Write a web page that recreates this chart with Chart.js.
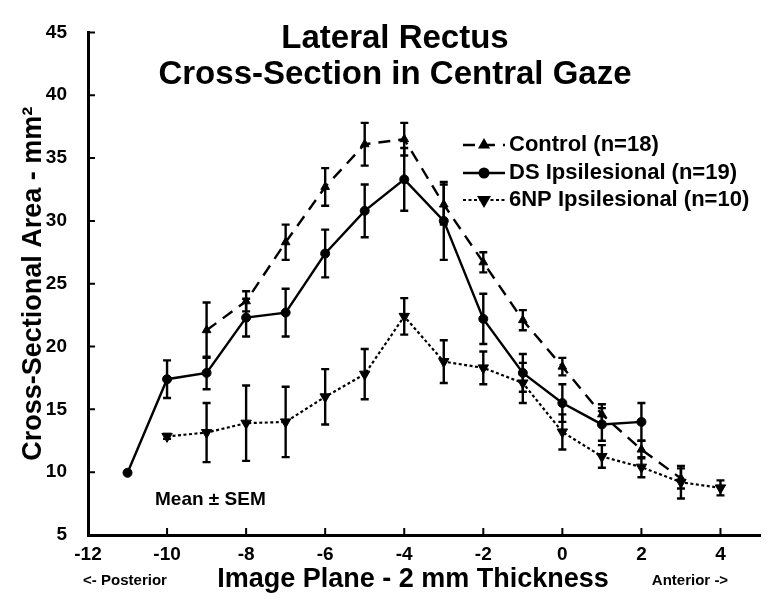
<!DOCTYPE html>
<html>
<head>
<meta charset="utf-8">
<script src="https://cdn.jsdelivr.net/npm/chart.js@4.4.1/dist/chart.umd.min.js"></script>
<style>
  html, body { margin: 0; padding: 0; background: #fff; }
  #wrap { width: 774px; height: 604px; }
</style>
</head>
<body>
<div id="wrap"><canvas id="chart" width="774" height="604"></canvas></div>
<script>
// image planes (mm steps of the 2 mm slices), shared by all series
const planes = [-11, -10, -9, -8, -7, -6, -5, -4, -3, -2, -1, 0, 1, 2, 3, 4];

const controlMean = [null, null, 21.3, 23.6, 28.3, 32.7, 36.1, 36.5, 31.3, 26.7, 22.1, 18.4, 14.6, 11.8, 9.5, null];
const controlSem  = [null, null, 2.2, 0.8, 1.4, 1.5, 1.7, 1.3, 1.6, 0.8, 0.8, 0.7, 0.8, 0.7, 0.8, null];

const dsMean = [9.95, 17.4, 17.9, 22.3, 22.7, 27.4, 30.8, 33.3, 30.0, 22.2, 17.9, 15.5, 13.8, 14.0, null, null];
const dsSem  = [null, 1.5, 1.3, 1.5, 1.9, 1.9, 2.1, 2.5, 3.1, 2.0, 1.5, 1.5, 1.3, 1.5, null, null];

const npMean = [null, 12.85, 13.15, 13.9, 14.0, 16.0, 17.8, 22.4, 18.8, 18.3, 17.1, 13.2, 11.25, 10.4, 9.2, 8.75];
const npSem  = [null, 0.2, 2.35, 3.0, 2.8, 2.2, 2.0, 1.45, 1.7, 1.3, 1.6, 1.4, 0.9, 0.8, 1.3, 0.6];

const seriesLabels = ['Control (n=18)', 'DS Ipsilesional (n=19)', '6NP Ipsilesional (n=10)'];
const titleLines = ['Lateral Rectus', 'Cross-Section in Central Gaze'];
const yTitle = 'Cross-Sectional Area - mm\u00B2';
const xTitle = 'Image Plane - 2 mm Thickness';
const noteText = 'Mean \u00B1 SEM';
const xEndLabels = ['<- Posterior', 'Anterior ->'];

const FONT = "'Liberation Sans', Arial, Helvetica, sans-serif";
const semSets = [controlSem, dsSem, npSem];

const toPoints = means => planes.map((p, i) => ({ x: p, y: means[i] }));

// vertical error bars with caps, drawn through the chart scales
const errorBars = {
  id: 'errorBars',
  afterDatasetsDraw(chart) {
    const { ctx, scales: { x, y } } = chart;
    ctx.save();
    ctx.strokeStyle = '#000';
    ctx.lineWidth = 2.4;
    chart.data.datasets.forEach((ds, d) => {
      semSets[d].forEach((s, i) => {
        const m = ds.data[i].y;
        if (s == null || m == null) return;
        const px = x.getPixelForValue(planes[i]);
        const top = y.getPixelForValue(m + s);
        const bot = y.getPixelForValue(m - s);
        ctx.beginPath();
        ctx.moveTo(px, top); ctx.lineTo(px, bot);
        ctx.moveTo(px - 4, top); ctx.lineTo(px + 4, top);
        ctx.moveTo(px - 4, bot); ctx.lineTo(px + 4, bot);
        ctx.stroke();
      });
    });
    ctx.restore();
  }
};

// tick marks pointing into the plot, plus the free text and the legend
const decorations = {
  id: 'decorations',
  afterDraw(chart) {
    const { ctx, chartArea: area, scales: { x, y } } = chart;
    ctx.save();
    ctx.strokeStyle = '#000';
    ctx.lineWidth = 2;
    ctx.beginPath();
    x.ticks.forEach(t => {
      const px = x.getPixelForValue(t.value);
      ctx.moveTo(px, area.bottom); ctx.lineTo(px, area.bottom - 7);
    });
    y.ticks.forEach(t => {
      const py = y.getPixelForValue(t.value);
      ctx.moveTo(area.left, py); ctx.lineTo(area.left + 7, py);
    });
    ctx.stroke();

    ctx.fillStyle = '#000';
    ctx.textAlign = 'center';
    ctx.textBaseline = 'middle';
    ctx.font = 'bold 33px ' + FONT;
    ctx.fillText(titleLines[0], 395, 39);
    ctx.fillText(titleLines[1], 395, 75);

    ctx.font = 'bold 27px ' + FONT;
    ctx.fillText(xTitle, 413, 580);

    ctx.font = 'bold 15px ' + FONT;
    ctx.fillText(xEndLabels[0], 125, 581);
    ctx.fillText(xEndLabels[1], 690, 581);

    ctx.textAlign = 'left';
    ctx.font = 'bold 19px ' + FONT;
    ctx.fillText(noteText, 155, 500);

    // legend: line sample with marker, then label
    const rows = [145, 173, 200];
    chart.data.datasets.forEach((ds, d) => {
      const ry = rows[d];
      ctx.save();
      ctx.lineWidth = ds.borderWidth;
      ctx.setLineDash(ds.borderDash || []);
      ctx.beginPath();
      ctx.moveTo(463, ry); ctx.lineTo(505, ry);
      ctx.stroke();
      ctx.restore();
      ctx.fillStyle = '#000';
      Chart.helpers.drawPoint(ctx, {
        pointStyle: ds.pointStyle,
        radius: ds.pointRadius,
        rotation: ds.pointRotation || 0,
        borderWidth: 1
      }, 484, ry);
      ctx.fill();
      ctx.font = 'bold 22px ' + FONT;
      ctx.textAlign = 'left';
      ctx.textBaseline = 'middle';
      ctx.fillText(seriesLabels[d], 509, ry);
    });
    ctx.restore();
  }
};

const common = {
  borderColor: '#000',
  backgroundColor: '#000',
  pointBackgroundColor: '#000',
  pointBorderColor: '#000',
  pointBorderWidth: 1,
  tension: 0,
  fill: false
};

new Chart(document.getElementById('chart').getContext('2d'), {
  type: 'line',
  data: {
    datasets: [
      Object.assign({}, common, {
        label: seriesLabels[0],
        data: toPoints(controlMean),
        borderWidth: 2.4,
        borderDash: [12, 8],
        pointStyle: 'triangle',
        pointRadius: 5
      }),
      Object.assign({}, common, {
        label: seriesLabels[1],
        data: toPoints(dsMean),
        borderWidth: 2.4,
        pointStyle: 'circle',
        pointRadius: 4.5
      }),
      Object.assign({}, common, {
        label: seriesLabels[2],
        data: toPoints(npMean),
        borderWidth: 2.2,
        borderDash: [3, 2.5],
        pointStyle: 'triangle',
        pointRotation: 180,
        pointRadius: 6
      })
    ]
  },
  options: {
    responsive: false,
    animation: false,
    devicePixelRatio: 1,
    layout: { padding: { top: 17, right: 14, left: 0, bottom: 0 } },
    plugins: {
      legend: { display: false },
      title: { display: false },
      tooltip: { enabled: false }
    },
    scales: {
      x: {
        type: 'linear',
        min: -12,
        max: 5,
        afterFit: s => { s.height = 69; },
        grid: { display: false, drawTicks: false },
        border: { display: true, color: '#000', width: 3 },
        ticks: {
          stepSize: 2,
          includeBounds: false,
          padding: 8,
          color: '#000',
          font: { family: FONT, size: 19, weight: 'bold' }
        }
      },
      y: {
        min: 5,
        max: 45,
        afterFit: s => { s.width = 88; },
        grid: { display: false, drawTicks: false },
        border: { display: true, color: '#000', width: 3 },
        ticks: {
          stepSize: 5,
          padding: 21,
          color: '#000',
          font: { family: FONT, size: 19, weight: 'bold' }
        },
        title: {
          display: true,
          text: yTitle,
          color: '#000',
          padding: { top: 17, bottom: 0 },
          font: { family: FONT, size: 27, weight: 'bold' }
        }
      }
    }
  },
  plugins: [errorBars, decorations]
});
</script>
</body>
</html>
